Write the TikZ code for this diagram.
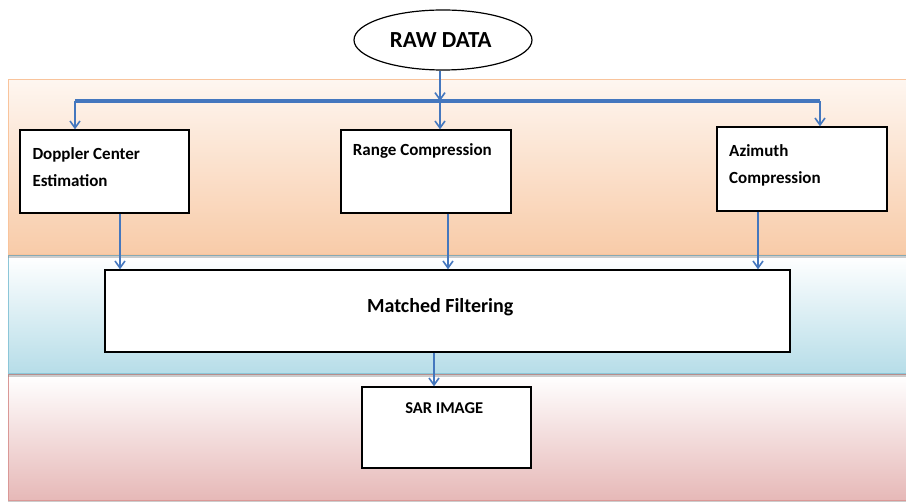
\documentclass[tikz,border=0pt]{standalone}
\usepackage{fontspec}
\setmainfont{Carlito}
\usetikzlibrary{arrows.meta,shadows,shapes.geometric}
\definecolor{arrblue}{HTML}{4477BE}
\definecolor{orbot}{HTML}{F8CBA8}
\definecolor{ortop}{HTML}{FEF6F0}
\definecolor{orline}{HTML}{F9C49C}
\definecolor{blbot}{HTML}{B6DDE8}
\definecolor{blline}{HTML}{8CC6D8}
\definecolor{pkbot}{HTML}{E6B8B7}
\definecolor{pkline}{HTML}{DA9896}
\tikzset{
  box/.style={draw=black, line width=1.3pt, fill=white, rectangle, inner sep=0pt,
    drop shadow={opacity=0.35, shadow xshift=0.8pt, shadow yshift=-1.2pt}},
  lbl/.style={font=\bfseries\fontsize{17}{26.7}\selectfont, align=left, inner sep=0pt},
  arr/.style={draw=arrblue, line width=1.8pt, -{Straight Barb[length=7pt,width=10pt,line width=1.6pt]}},
  bus/.style={draw=arrblue, line width=3.2pt},
  band/.style={line width=1pt, drop shadow={opacity=0.4, shadow xshift=0pt, shadow yshift=-3pt}}
}
\begin{document}
\begin{tikzpicture}[x=1pt,y=-1pt]
\useasboundingbox (0,0) rectangle (906,502);
% bands
\path[band, draw=pkline, top color=white, bottom color=pkbot] (8,375) rectangle (915,501);
\path[band, draw=blline, top color=white, bottom color=blbot] (8,256) rectangle (915,374);
\path[band, draw=orline, top color=ortop, bottom color=orbot] (8,80) rectangle (915,255);
% raw data
\node[draw=black, line width=1.2pt, fill=white, ellipse, minimum width=178pt, minimum height=60pt, inner sep=0pt] (raw) at (443,40) {};
\node[font=\bfseries\fontsize{23}{23}\selectfont, inner sep=0pt, anchor=base] (traw) at (440.7,47.3) {RAW DATA};
% bus
\coordinate (busL) at (75,101);
\coordinate (busR) at (820,101);
\coordinate (busM) at (440,101);
\draw[bus] (busL) -- (busR);
% boxes
\node[box, minimum width=169pt, minimum height=83pt] (dop) at (104.5,171.5) {};
\node[box, minimum width=170pt, minimum height=83pt] (rng) at (426,171.5) {};
\node[box, minimum width=170pt, minimum height=84pt] (azi) at (802,169) {};
\node[box, minimum width=685pt, minimum height=82pt] (mf) at (447.5,311) {};
\node[box, minimum width=169pt, minimum height=81pt] (sar) at (446.5,427.5) {};
% labels (base anchor of a two-line node is the baseline of its last line)
\node[lbl, anchor=base west] (tdop) at (32.3,186.7) {Doppler Center\\Estimation};
\node[lbl, anchor=base west] (trng) at (352.7,155.7) {Range Compression};
\node[lbl, anchor=base west] (tazi) at (729,183.3) {Azimuth\\Compression};
\node[lbl, font=\bfseries\fontsize{20}{20}\selectfont, anchor=base] (tmf) at (440.2,312.7) {Matched Filtering};
\node[lbl, font=\bfseries\fontsize{16.5}{16.5}\selectfont, anchor=base] (tsar) at (444.2,413.3) {SAR IMAGE};
% arrows
\draw[arr] (raw.south -| busM) -- (busM);
\draw[arr] (busL) -- (busL |- dop.north);
\draw[arr] (busM) -- (busM |- rng.north);
\draw[arr] (busR) -- (busR |- azi.north);
\draw[arr] ([xshift=15.5pt]dop.south) -- ([xshift=15.5pt]dop.south |- mf.north);
\draw[arr] ([xshift=22pt]rng.south) -- ([xshift=22pt]rng.south |- mf.north);
\draw[arr] ([xshift=-44pt]azi.south) -- ([xshift=-44pt]azi.south |- mf.north);
\draw[arr] ([xshift=-13.5pt]mf.south) -- ([xshift=-13.5pt]mf.south |- sar.north);
\end{tikzpicture}
\end{document}
